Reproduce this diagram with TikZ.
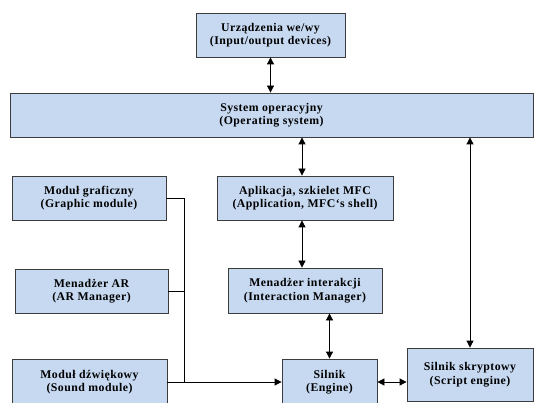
\documentclass[tikz,border=0pt]{standalone}
\usepackage{fontspec}
\setmainfont{Liberation Serif}
\usepackage{tikz}
\usetikzlibrary{positioning,calc,arrows.meta}
\definecolor{boxblue}{RGB}{198,217,241}
\definecolor{boxline}{RGB}{60,60,60}

\begin{document}
\begin{tikzpicture}[x=1pt,y=-1pt,
  blok/.style={draw=boxline,fill=boxblue,line width=.8pt,align=center,inner sep=1pt,
    font=\fontsize{11.8}{13.5}\selectfont\bfseries\addfontfeature{LetterSpace=4}},
  strz/.style={{Triangle[length=7pt,width=7pt]}-{Triangle[length=7pt,width=7pt]},line width=.8pt},
  jed/.style={-{Triangle[length=7pt,width=7pt]},line width=.8pt}]
\useasboundingbox (0,0) rectangle (535,403);
\node[blok,minimum width=149pt,minimum height=44pt] (io) at (270.5,35) {Urządzenia we/wy\\(Input/output devices)};
\node[blok,minimum width=523pt,minimum height=44pt] (os) at (271.5,115) {System operacyjny\\(Operating system)};
\node[blok,minimum width=154pt,minimum height=44pt] (gfx) at (89,198) {Moduł graficzny\\(Graphic module)};
\node[blok,minimum width=153pt,minimum height=44pt] (arm) at (91.5,291) {Menadżer AR\\(AR Manager)};
\node[blok,minimum width=155pt,minimum height=46pt] (snd) at (89.5,382) {Moduł dźwiękowy\\(Sound module)};
\node[blok,minimum width=176pt,minimum height=44pt] (app) at (305,198) {Aplikacja, szkielet MFC\\(Application, MFC`s shell)};
\node[blok,minimum width=154pt,minimum height=45pt] (imgr) at (305,290.5) {Menadżer interakcji\\(Interaction Manager)};
\node[blok,minimum width=95pt,minimum height=46pt] (eng) at (329.5,382) {Silnik\\(Engine)};
\node[blok,minimum width=126pt,minimum height=53pt] (scr) at (470,374.5) {Silnik skryptowy\\(Script engine)};
\coordinate (bus) at (184,0);
\draw[strz] (io.south) -- (io.south |- os.north);
\draw[strz] ([xshift=-3pt]app.north |- os.south) -- ([xshift=-3pt]app.north);
\draw[strz] ([xshift=-3pt]app.south) -- ([xshift=-3pt]app.south |- imgr.north);
\draw[strz] (eng.north |- imgr.south) -- (eng.north);
\draw[strz] (scr.north |- os.south) -- (scr.north);
\draw[strz] (eng.east) -- (eng.east -| scr.west);
\draw[line width=.8pt] (gfx.east) -- (gfx.east -| bus) -- (snd.east -| bus);
\draw[line width=.8pt] (arm.east) -- (arm.east -| bus);
\draw[jed] (snd.east) -- (eng.west);
\end{tikzpicture}
\end{document}
